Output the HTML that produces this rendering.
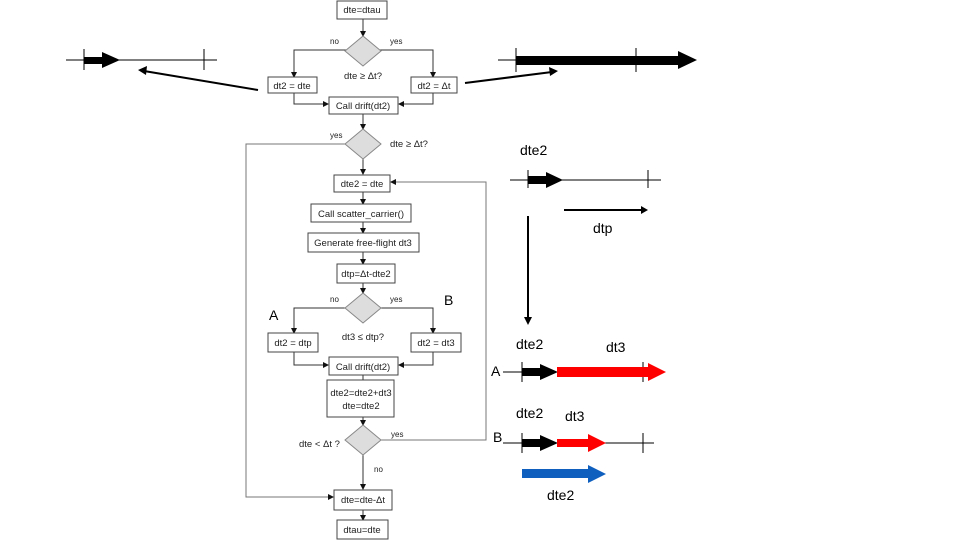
<!DOCTYPE html>
<html><head><meta charset="utf-8"><style>
body{margin:0;background:#fff;}
svg{display:block;}
.f{font-family:"Liberation Sans",sans-serif;font-size:9.5px;fill:#222;}
.c{font-family:"Liberation Sans",sans-serif;font-size:14px;fill:#000;}
</style></head><body>
<svg width="960" height="540" viewBox="0 0 960 540" xmlns="http://www.w3.org/2000/svg">
<defs>
<marker id="a" markerWidth="6" markerHeight="6" refX="5" refY="3" orient="auto" markerUnits="userSpaceOnUse"><path d="M0,0 L6,3 L0,6 Z" fill="#111"/></marker>
</defs>
<g stroke="#333" stroke-width="1" fill="none">
<!-- flowchart connectors -->
<line x1="363" y1="19" x2="363" y2="36" marker-end="url(#a)"/>
<polyline points="347,50 294,50 294,77" marker-end="url(#a)"/>
<polyline points="380,50 433,50 433,77" marker-end="url(#a)"/>
<polyline points="294,93 294,104 328,104" marker-end="url(#a)"/>
<polyline points="433,93 433,104 399,104" marker-end="url(#a)"/>
<line x1="363" y1="114" x2="363" y2="129" marker-end="url(#a)"/>
<line x1="363" y1="158" x2="363" y2="174" marker-end="url(#a)"/>
<polyline points="347,144 246,144 246,497 333,497" stroke="#777" marker-end="url(#a)"/>
<polyline points="381,440 486,440 486,182 391,182" stroke="#777" marker-end="url(#a)"/>
<line x1="363" y1="192" x2="363" y2="204" marker-end="url(#a)"/>
<line x1="363" y1="222" x2="363" y2="233" marker-end="url(#a)"/>
<line x1="363" y1="252" x2="363" y2="264" marker-end="url(#a)"/>
<line x1="363" y1="283" x2="363" y2="293" marker-end="url(#a)"/>
<polyline points="347,308 294,308 294,333" marker-end="url(#a)"/>
<polyline points="380,308 433,308 433,333" marker-end="url(#a)"/>
<polyline points="294,352 294,365 328,365" marker-end="url(#a)"/>
<polyline points="433,352 433,365 399,365" marker-end="url(#a)"/>
<line x1="363" y1="375" x2="363" y2="380" />
<line x1="363" y1="417" x2="363" y2="425" marker-end="url(#a)"/>
<line x1="363" y1="455" x2="363" y2="489" marker-end="url(#a)"/>
<line x1="363" y1="510" x2="363" y2="520" marker-end="url(#a)"/>
</g>
<g fill="#fff" stroke="#444" stroke-width="1">
<rect x="337" y="1" width="50" height="18"/>
<rect x="268" y="77" width="49" height="16"/>
<rect x="411" y="77" width="46" height="16"/>
<rect x="329" y="97" width="69" height="17"/>
<rect x="334" y="175" width="56" height="17"/>
<rect x="311" y="204" width="100" height="18"/>
<rect x="308" y="233" width="111" height="19"/>
<rect x="337" y="264" width="58" height="19"/>
<rect x="268" y="333" width="50" height="19"/>
<rect x="411" y="333" width="50" height="19"/>
<rect x="329" y="357" width="69" height="18"/>
<rect x="327" y="380" width="67" height="37"/>
<rect x="334" y="490" width="58" height="20"/>
<rect x="337" y="520" width="51" height="19"/>
</g>
<g fill="#ddd" stroke="#888" stroke-width="1">
<polygon points="363,36 381,51 363,66 345,51"/>
<polygon points="363,129 381,144 363,159 345,144"/>
<polygon points="363,293 381,308 363,323 345,308"/>
<polygon points="363,425 381,440 363,455 345,440"/>
</g>
<g class="f" text-anchor="middle">
<text x="362" y="13">dte=dtau</text>
<text x="292" y="89">dt2 = dte</text>
<text x="434" y="89">dt2 = Δt</text>
<text x="363" y="109">Call drift(dt2)</text>
<text x="362" y="187">dte2 = dte</text>
<text x="361" y="217">Call scatter_carrier()</text>
<text x="363" y="246">Generate free-flight dt3</text>
<text x="366" y="277">dtp=Δt-dte2</text>
<text x="293" y="346">dt2 = dtp</text>
<text x="436" y="346">dt2 = dt3</text>
<text x="363" y="370">Call drift(dt2)</text>
<text x="361" y="396">dte2=dte2+dt3</text>
<text x="361" y="409">dte=dte2</text>
<text x="363" y="503">dte=dte-Δt</text>
<text x="362" y="533">dtau=dte</text>
<text x="363" y="79">dte ≥ Δt?</text>
<text x="363" y="340">dt3 ≤ dtp?</text>
</g>
<g class="f" font-size="8">
<text x="330" y="44" style="font-size:8px">no</text>
<text x="390" y="44" style="font-size:8px">yes</text>
<text x="330" y="138" style="font-size:8px">yes</text>
<text x="390" y="147">dte ≥ Δt?</text>
<text x="330" y="302" style="font-size:8px">no</text>
<text x="390" y="302" style="font-size:8px">yes</text>
<text x="299" y="447">dte &lt; Δt ?</text>
<text x="391" y="437" style="font-size:8px">yes</text>
<text x="374" y="472" style="font-size:8px">no</text>
</g>
<text class="c" x="269" y="320">A</text>
<text class="c" x="444" y="305">B</text>

<!-- left top timeline -->
<g stroke="#000" fill="#000">
<line x1="66" y1="60" x2="217" y2="60" stroke-width="1"/>
<line x1="84" y1="49" x2="84" y2="70"/>
<line x1="204" y1="49" x2="204" y2="70"/>
<rect x="84" y="57" width="19" height="7" stroke="none"/>
<polygon points="102,52 120,60 102,68" stroke="none"/>
<line x1="258" y1="90" x2="144" y2="71" stroke-width="2"/>
<polygon points="138,70 147,66 146,75" stroke="none"/>
<!-- right top -->
<line x1="498" y1="60" x2="680" y2="60" stroke-width="1"/>
<line x1="516" y1="48" x2="516" y2="72"/>
<line x1="636" y1="48" x2="636" y2="72"/>
<rect x="516" y="56" width="164" height="9" stroke="none"/>
<polygon points="678,51 697,60 678,69" stroke="none"/>
<line x1="465" y1="83" x2="552" y2="72" stroke-width="2"/>
<polygon points="558,71 549,67 550,76" stroke="none"/>
<!-- middle -->
<line x1="510" y1="180" x2="661" y2="180"/>
<line x1="528" y1="170" x2="528" y2="188"/>
<line x1="648" y1="170" x2="648" y2="188"/>
<rect x="528" y="176" width="19" height="8" stroke="none"/>
<polygon points="546,172 563,180 546,188" stroke="none"/>
<line x1="564" y1="210" x2="642" y2="210" stroke-width="2"/>
<polygon points="648,210 641,206 641,214" stroke="none"/>
<line x1="528" y1="216" x2="528" y2="318" stroke-width="2"/>
<polygon points="528,325 524,317 532,317" stroke="none"/>
<!-- A -->
<line x1="503" y1="372" x2="523" y2="372"/>
<line x1="522" y1="362" x2="522" y2="382"/>
<line x1="643" y1="362" x2="643" y2="382"/>
<rect x="522" y="368" width="19" height="8" stroke="none"/>
<polygon points="540,364 558,372 540,380" stroke="none"/>
<rect x="557" y="367" width="92" height="10" fill="#f00" stroke="none"/>
<polygon points="648,363 666,372 648,381" fill="#f00" stroke="none"/>
<!-- B -->
<line x1="503" y1="443" x2="654" y2="443"/>
<line x1="522" y1="433" x2="522" y2="453"/>
<line x1="643" y1="433" x2="643" y2="453"/>
<rect x="522" y="439" width="19" height="8" stroke="none"/>
<polygon points="540,435 558,443 540,451" stroke="none"/>
<rect x="557" y="439" width="32" height="8" fill="#f00" stroke="none"/>
<polygon points="588,434 606,443 588,452" fill="#f00" stroke="none"/>
<rect x="522" y="469" width="67" height="9" fill="#0f5fbf" stroke="none"/>
<polygon points="588,465 606,474 588,483" fill="#0f5fbf" stroke="none"/>
</g>
<g class="c">
<text x="520" y="155">dte2</text>
<text x="593" y="233">dtp</text>
<text x="516" y="349">dte2</text>
<text x="606" y="352">dt3</text>
<text x="491" y="376">A</text>
<text x="516" y="418">dte2</text>
<text x="565" y="421">dt3</text>
<text x="493" y="442">B</text>
<text x="547" y="500">dte2</text>
</g>
</svg>
</body></html>
